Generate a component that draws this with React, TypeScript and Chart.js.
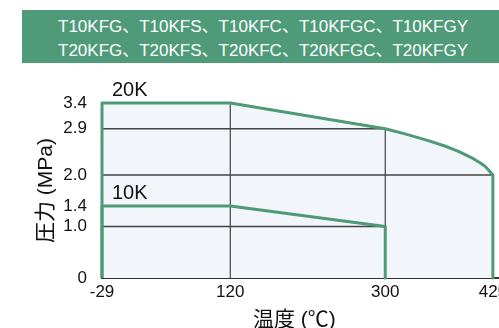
import React, { useEffect, useRef } from "react";
import { Chart, registerables } from "chart.js";

Chart.register(...registerables);

// ---- data ----
const headerLines = [
  "T10KFG、T10KFS、T10KFC、T10KFGC、T10KFGY",
  "T20KFG、T20KFS、T20KFC、T20KFGC、T20KFGY",
];
const seriesNames = ["20K", "10K"];
const temps20K = [-29, -29, 120, 300, 325, 350, 370, 385, 400, 410, 416, 421, 425, 425];
const press20K = [0, 3.4, 3.4, 2.9, 2.79, 2.67, 2.56, 2.46, 2.34, 2.24, 2.17, 2.08, 2.0, 0];
const temps10K = [-29, -29, 120, 300, 300];
const press10K = [0, 1.4, 1.4, 1.0, 0];
const gridYValues = [2.9, 2.0, 1.0];
const gridYEnds = [300, 425, 300];
const gridXValues = [120, 300];
const gridXTops = [3.4, 2.9];
const xTicks = [-29, 120, 300, 425];
const yTicks = [0, 1.0, 1.4, 2.0, 2.9, 3.4];
const xTitle = "温度 (℃)";
const yTitle = "圧力 (MPa)";

const GREEN = "#4e9a77";
const FILL = "#f2f5f9";
const GRID = "#454545";
const FONT = "'Liberation Sans', Arial, 'Noto Sans CJK JP', sans-serif";

const toPts = (xs: number[], ys: number[]) => xs.map((x, i) => ({ x, y: ys[i] }));

const labelPlugin = {
  id: "extraLabels",
  afterDatasetsDraw(chart: any) {
    const { ctx, scales, chartArea } = chart;
    const starts = [
      { x: temps20K[1], y: press20K[1] },
      { x: temps10K[1], y: press10K[1] },
    ];
    ctx.save();
    ctx.font = `20px ${FONT}`;
    ctx.fillStyle = "#111";
    ctx.textAlign = "left";
    ctx.textBaseline = "alphabetic";
    starts.forEach((p, i) => {
      const px = scales.x.getPixelForValue(p.x) + 10;
      const py = scales.y.getPixelForValue(p.y) - 7;
      ctx.fillText(seriesNames[i], px, py);
    });
    // x-axis title, centred under the drawn temperature range
    ctx.font = `21px ${FONT}`;
    ctx.textAlign = "center";
    ctx.textBaseline = "middle";
    const cx = (chartArea.left + scales.x.getPixelForValue(xTicks[xTicks.length - 1])) / 2 - 3;
    ctx.fillText(xTitle, cx, chartArea.bottom + 42);
    ctx.restore();
  },
};

export default function App() {
  const ref = useRef<HTMLCanvasElement | null>(null);

  useEffect(() => {
    if (!ref.current) return;
    const gridSets: any[] = [];
    gridYValues.forEach((v, i) => {
      gridSets.push({
        data: [
          { x: xTicks[0], y: v },
          { x: gridYEnds[i], y: v },
        ],
        borderColor: GRID,
        borderWidth: 1.4,
        pointRadius: 0,
        fill: false,
        order: 5,
        clip: false,
      });
    });
    gridXValues.forEach((v, i) => {
      gridSets.push({
        data: [
          { x: v, y: 0 },
          { x: v, y: gridXTops[i] },
        ],
        borderColor: GRID,
        borderWidth: 1.2,
        pointRadius: 0,
        fill: false,
        order: 5,
        clip: false,
      });
    });

    const chart = new Chart(ref.current, {
      type: "line",
      data: {
        datasets: [
          {
            label: "fill",
            data: toPts(temps20K, press20K),
            backgroundColor: FILL,
            borderWidth: 0,
            borderColor: "rgba(0,0,0,0)",
            pointRadius: 0,
            fill: "origin",
            order: 10,
            clip: false,
          },
          ...gridSets,
          {
            label: seriesNames[0],
            data: toPts(temps20K, press20K),
            borderColor: GREEN,
            borderWidth: 3,
            pointRadius: 0,
            fill: false,
            order: 1,
            clip: false,
            borderJoinStyle: "round",
          },
          {
            label: seriesNames[1],
            data: toPts(temps10K, press10K),
            borderColor: GREEN,
            borderWidth: 3,
            pointRadius: 0,
            fill: false,
            order: 1,
            clip: false,
            borderJoinStyle: "round",
          },
        ],
      },
      options: {
        animation: false,
        responsive: false,
        devicePixelRatio: 1,
        layout: { padding: { left: 34, top: 103, right: 12, bottom: 4 } },
        plugins: {
          legend: { display: false },
          tooltip: { enabled: false },
        },
        scales: {
          x: {
            type: "linear",
            min: -29,
            max: 460,
            grid: { display: false, drawTicks: false },
            border: { display: true, color: "#333", width: 2 },
            afterBuildTicks: (s: any) => {
              s.ticks = xTicks.map((v) => ({ value: v }));
            },
            afterFit: (s: any) => {
              s.height = 336 - 4 - 278;
            },
            ticks: {
              autoSkip: false,
              maxRotation: 0,
              padding: 4,
              color: "#111",
              font: { size: 17, family: FONT },
              callback: (v: any) => String(v),
            },
            title: { display: false },
          },
          y: {
            type: "linear",
            min: 0,
            max: 3.4,
            grid: { display: false, drawTicks: false },
            border: { display: false },
            afterBuildTicks: (s: any) => {
              s.ticks = yTicks.map((v) => ({ value: v }));
            },
            afterFit: (s: any) => {
              s.width = 68;
            },
            ticks: {
              autoSkip: false,
              padding: 15,
              color: "#111",
              font: { size: 17, family: FONT },
              callback: (v: any) => (Number(v) === 0 ? "0" : Number(v).toFixed(1)),
            },
            title: {
              display: true,
              text: yTitle,
              color: "#111",
              font: { size: 21, family: FONT },
              padding: { top: 0, bottom: 0 },
            },
          },
        },
      },
      plugins: [labelPlugin],
    } as any);
    return () => chart.destroy();
  }, []);

  return (
    <div
      style={{
        position: "fixed",
        left: 0,
        top: 0,
        width: 499,
        height: 328,
        overflow: "hidden",
        background: "#fff",
      }}
    >
      <canvas
        ref={ref}
        width={535}
        height={336}
        style={{ position: "absolute", left: 0, top: 0, width: 535, height: 336 }}
      />
      <div
        style={{
          position: "absolute",
          left: 22,
          top: 10,
          width: 500,
          height: 53,
          boxSizing: "border-box",
          paddingLeft: 36,
          paddingTop: 5,
          background: "#4f9b79",
          color: "#fff",
          fontFamily: FONT,
          fontSize: 17,
          lineHeight: "24px",
          whiteSpace: "nowrap",
        }}
      >
        {headerLines.map((l, i) => (
          <div key={i}>{l}</div>
        ))}
      </div>
    </div>
  );
}
